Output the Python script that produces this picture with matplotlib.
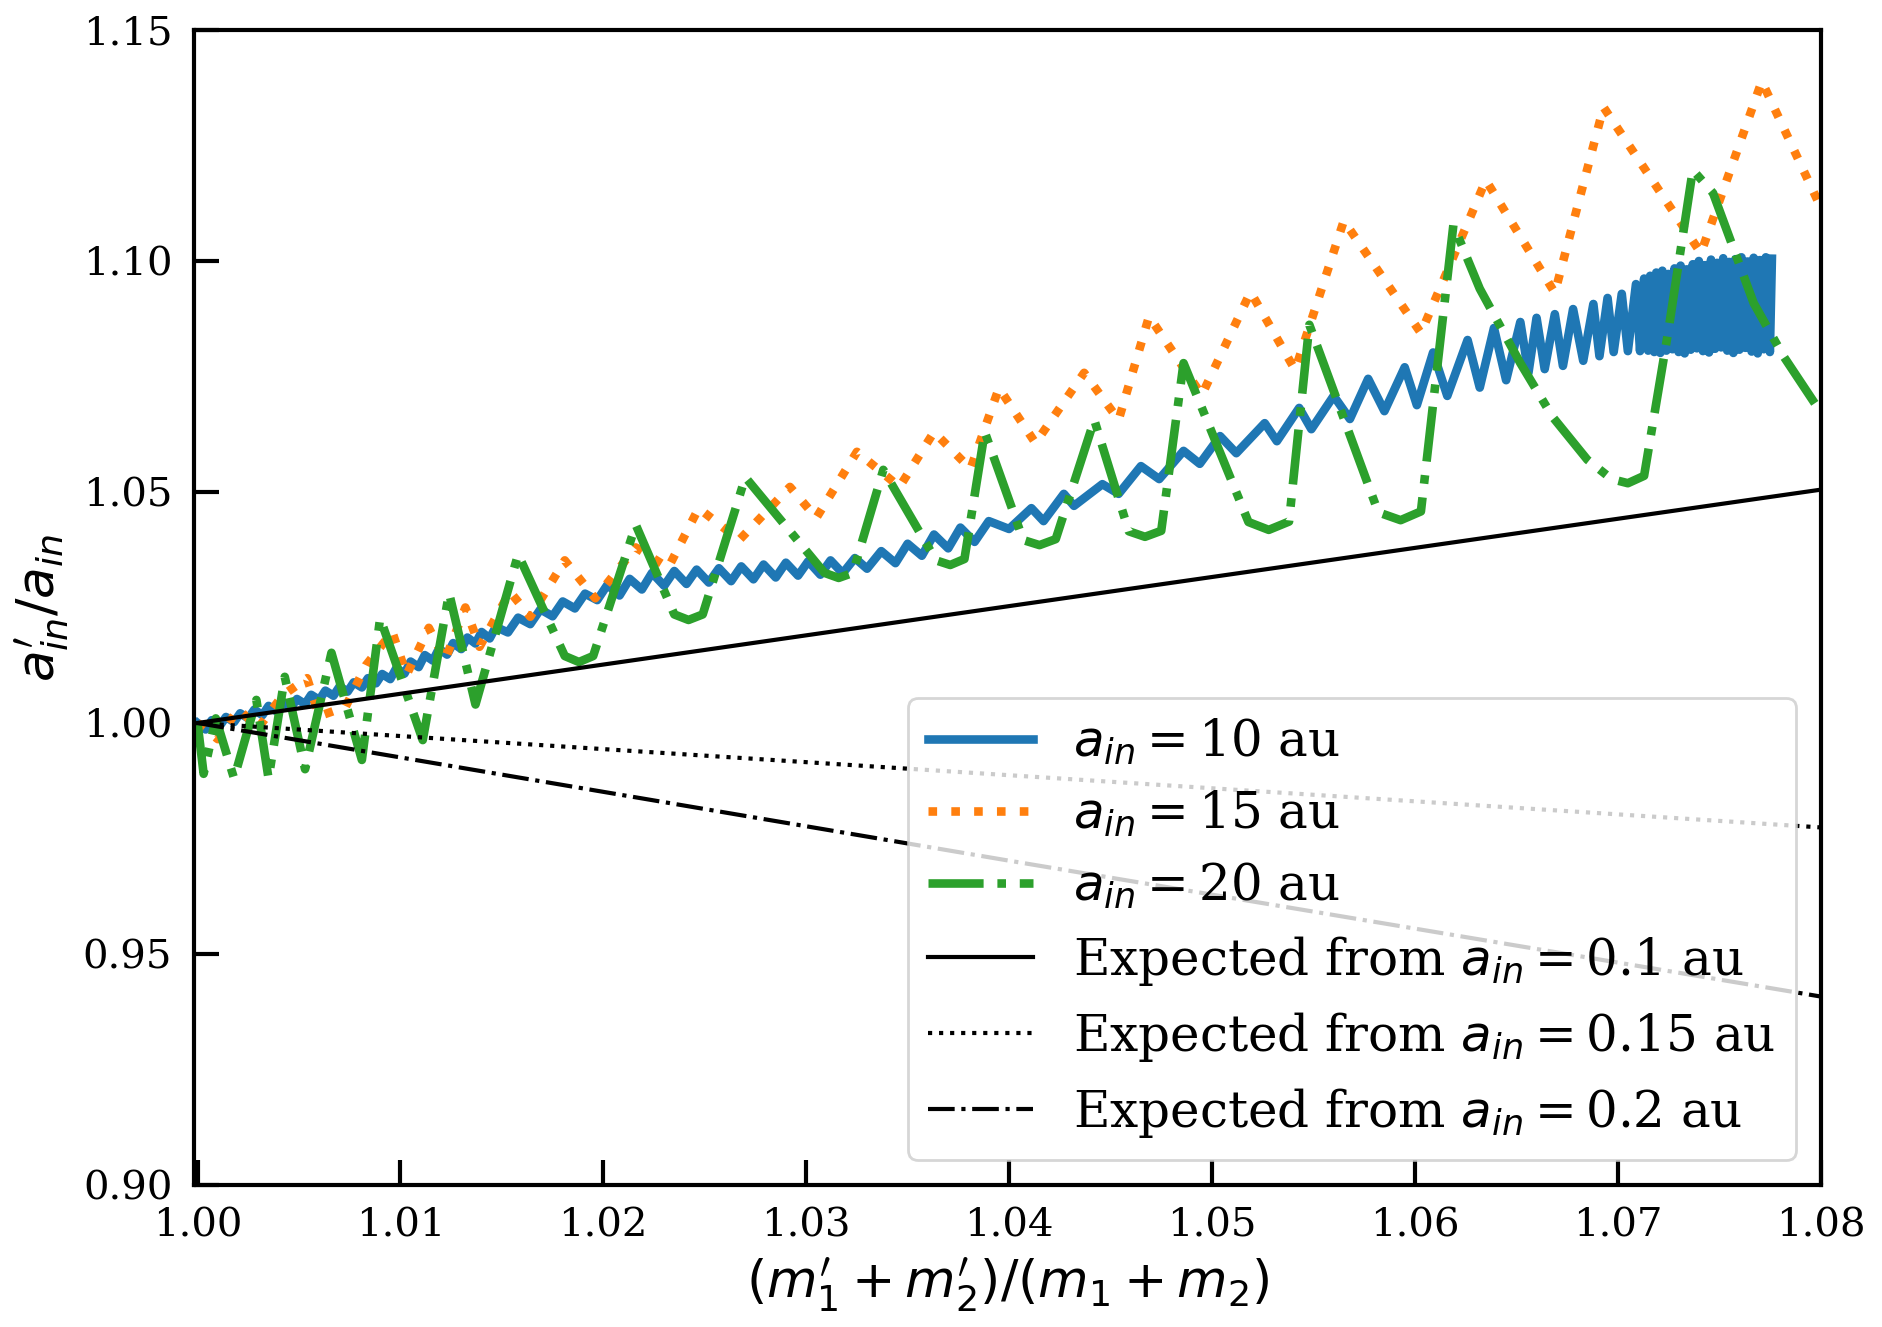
import matplotlib
matplotlib.use('Agg')
import matplotlib.pyplot as plt

# ---------------- data ----------------
blue_x = [1.0000, 1.0004, 1.0007, 1.0011, 1.0014, 1.0018, 1.0021, 1.0025, 1.0028, 1.0032,
          1.0035, 1.0039, 1.0042, 1.0046, 1.0049, 1.0053, 1.0056, 1.0060, 1.0063, 1.0067,
          1.0070, 1.0074, 1.0077, 1.0081, 1.0084, 1.0088, 1.0091, 1.0095, 1.0098, 1.0102,
          1.0105, 1.0109, 1.0112, 1.0116, 1.0119, 1.0123, 1.0126, 1.0130, 1.0133, 1.0137,
          1.0140, 1.0144, 1.0147, 1.0153, 1.0158, 1.0164, 1.0169, 1.0175, 1.0180, 1.0186,
          1.0191, 1.0197, 1.0202, 1.0208, 1.0213, 1.0219, 1.0224, 1.0230, 1.0235, 1.0241,
          1.0246, 1.0252, 1.0257, 1.0263, 1.0268, 1.0274, 1.0279, 1.0285, 1.0290, 1.0296,
          1.0301, 1.0307, 1.0312, 1.0318, 1.0324, 1.0330, 1.0337, 1.0344, 1.0350, 1.0357,
          1.0363, 1.0370, 1.0376, 1.0383, 1.0390, 1.0400, 1.0411, 1.0417, 1.0427, 1.0432,
          1.0446, 1.0454, 1.0465, 1.0474, 1.0486, 1.0494, 1.0504, 1.0512, 1.0526, 1.0532,
          1.0543, 1.0549, 1.0560, 1.0568, 1.0577, 1.0585, 1.0595, 1.0601, 1.0609, 1.0616,
          1.0626, 1.0632, 1.0639, 1.0645, 1.0652, 1.0656, 1.0660, 1.0664, 1.0669, 1.0673,
          1.0678, 1.0683, 1.0688, 1.0691, 1.0695, 1.0698, 1.0702, 1.0705, 1.0709, 1.0711,
          1.0713, 1.0715, 1.0716, 1.0718, 1.0719, 1.0721, 1.0722, 1.0724, 1.0725, 1.0727,
          1.0728, 1.0730, 1.0731, 1.0733, 1.0734, 1.0736, 1.0737, 1.0739, 1.0740, 1.0742,
          1.0743, 1.0745, 1.0746, 1.0748, 1.0749, 1.0751, 1.0752, 1.0754, 1.0755, 1.0757,
          1.0758, 1.0760, 1.0761, 1.0763, 1.0764, 1.0766, 1.0767, 1.0769, 1.0770, 1.0772,
          1.0773, 1.0775, 1.0776]
blue_y = [1.0000, 0.9986, 1.0006, 0.9994, 1.0013, 1.0002, 1.0021, 1.0010, 1.0029, 1.0017,
          1.0037, 1.0025, 1.0044, 1.0033, 1.0052, 1.0041, 1.0061, 1.0050, 1.0070, 1.0059,
          1.0079, 1.0068, 1.0088, 1.0077, 1.0097, 1.0086, 1.0106, 1.0095, 1.0119, 1.0107,
          1.0133, 1.0121, 1.0147, 1.0135, 1.0161, 1.0148, 1.0173, 1.0160, 1.0185, 1.0172,
          1.0197, 1.0183, 1.0208, 1.0196, 1.0228, 1.0214, 1.0246, 1.0231, 1.0263, 1.0248,
          1.0280, 1.0266, 1.0299, 1.0276, 1.0312, 1.0289, 1.0325, 1.0297, 1.0329, 1.0301,
          1.0332, 1.0304, 1.0335, 1.0307, 1.0339, 1.0311, 1.0343, 1.0315, 1.0347, 1.0319,
          1.0350, 1.0321, 1.0352, 1.0324, 1.0357, 1.0334, 1.0372, 1.0346, 1.0388, 1.0362,
          1.0408, 1.0378, 1.0423, 1.0392, 1.0437, 1.0420, 1.0465, 1.0437, 1.0496, 1.0470,
          1.0517, 1.0496, 1.0556, 1.0528, 1.0589, 1.0561, 1.0621, 1.0584, 1.0649, 1.0610,
          1.0682, 1.0636, 1.0708, 1.0658, 1.0745, 1.0675, 1.0770, 1.0688, 1.0802, 1.0708,
          1.0829, 1.0726, 1.0855, 1.0742, 1.0868, 1.0758, 1.0877, 1.0766, 1.0885, 1.0773,
          1.0896, 1.0784, 1.0907, 1.0794, 1.0920, 1.0803, 1.0929, 1.0805, 1.0950, 1.0805,
          1.0962, 1.0806, 1.0968, 1.0803, 1.0975, 1.0801, 1.0979, 1.0806, 1.0972, 1.0809,
          1.0984, 1.0803, 1.0990, 1.0800, 1.0982, 1.0808, 1.0993, 1.0811, 1.1000, 1.0805,
          1.0991, 1.0802, 1.1003, 1.0810, 1.0996, 1.0813, 1.1006, 1.0806, 1.0998, 1.0801,
          1.1004, 1.0808, 1.1008, 1.0812, 1.0999, 1.0804, 1.1007, 1.0800, 1.1002, 1.0809,
          1.1008, 1.0803, 1.1005]

orange_x = [1.0000, 1.0010, 1.0020, 1.0030, 1.0042, 1.0054, 1.0060, 1.0073, 1.0083, 1.0096,
            1.0103, 1.0114, 1.0122, 1.0132, 1.0139, 1.0154, 1.0164, 1.0181, 1.0196, 1.0216,
            1.0232, 1.0247, 1.0267, 1.0292, 1.0305, 1.0325, 1.0346, 1.0363, 1.0381, 1.0395,
            1.0413, 1.0437, 1.0454, 1.0469, 1.0495, 1.0519, 1.0541, 1.0565, 1.0603, 1.0635,
            1.0669, 1.0693, 1.0741, 1.0771, 1.0800]
orange_y = [1.0000, 0.9965, 1.0030, 0.9990, 1.0060, 1.0097, 1.0015, 1.0035, 1.0125, 1.0197,
            1.0104, 1.0206, 1.0136, 1.0250, 1.0165, 1.0284, 1.0230, 1.0352, 1.0270, 1.0380,
            1.0336, 1.0465, 1.0396, 1.0511, 1.0444, 1.0587, 1.0511, 1.0630, 1.0550, 1.0725,
            1.0606, 1.0758, 1.0656, 1.0880, 1.0710, 1.0933, 1.0764, 1.1087, 1.0844, 1.1175,
            1.0931, 1.1333, 1.1017, 1.1389, 1.1117]

green_x = [1.0000, 1.0003, 1.0009, 1.0018, 1.0029, 1.0035, 1.0043, 1.0053, 1.0066, 1.0081,
           1.0090, 1.0111, 1.0124, 1.0137, 1.0158, 1.0181, 1.0188, 1.0195, 1.0216, 1.0235,
           1.0242, 1.0249, 1.0270, 1.0309, 1.0316, 1.0323, 1.0338, 1.0364, 1.0371, 1.0378,
           1.0388, 1.0407, 1.0415, 1.0423, 1.0442, 1.0459, 1.0467, 1.0475, 1.0486, 1.0518,
           1.0528, 1.0538, 1.0548, 1.0582, 1.0593, 1.0603, 1.0619, 1.0632, 1.0652, 1.0668,
           1.0685, 1.0697, 1.0705, 1.0713, 1.0725, 1.0737, 1.0747, 1.0767, 1.0782, 1.0800]
green_y = [1.0000, 0.9890, 1.0010, 0.9880, 1.0050, 0.9880, 1.0100, 0.9900, 1.0152, 0.9920,
           1.0227, 0.9963, 1.0281, 1.0040, 1.0365, 1.0145, 1.0132, 1.0145, 1.0429, 1.0235,
           1.0223, 1.0235, 1.0532, 1.0325, 1.0314, 1.0325, 1.0548, 1.0352, 1.0342, 1.0355,
           1.0630, 1.0396, 1.0385, 1.0398, 1.0656, 1.0415, 1.0403, 1.0416, 1.0779, 1.0435,
           1.0418, 1.0436, 1.0862, 1.0456, 1.0439, 1.0458, 1.1078, 1.0940, 1.0779, 1.0662,
           1.0570, 1.0528, 1.0519, 1.0535, 1.0850, 1.1197, 1.1147, 1.0909, 1.0792, 1.0673]

expected_x = [1.00, 1.04, 1.08]
expected_01 = [1.0000, 1.0253, 1.0505]
expected_015 = [1.0000, 0.9887, 0.9774]
expected_02 = [1.0000, 0.9702, 0.9408]

series_labels = [r'$a_{in} = $10 au', r'$a_{in} = $15 au', r'$a_{in} = $20 au']
expected_labels = [r'Expected from $a_{in} = $0.1 au',
                   r'Expected from $a_{in} = $0.15 au',
                   r'Expected from $a_{in} = $0.2 au']

xticks = [1.00, 1.01, 1.02, 1.03, 1.04, 1.05, 1.06, 1.07, 1.08]
xticklabels = ['1.00', '1.01', '1.02', '1.03', '1.04', '1.05', '1.06', '1.07', '1.08']
yticks = [0.90, 0.95, 1.00, 1.05, 1.10, 1.15]
yticklabels = ['0.90', '0.95', '1.00', '1.05', '1.10', '1.15']

# ---------------- figure ----------------
plt.rcParams['font.family'] = ['DejaVu Serif']
plt.rcParams['mathtext.fontset'] = 'dejavusans'

fig = plt.figure(figsize=(9.415, 6.635), dpi=200)
ax = fig.add_axes([0.10329, 0.10701, 0.86357, 0.87038])

style = dict(solid_joinstyle='round', dash_joinstyle='round')
ax.plot(blue_x, blue_y, color='#1f77b4', lw=3.1, label=series_labels[0], **style)
ax.plot(orange_x, orange_y, color='#ff7f0e', lw=3.1, ls=':', label=series_labels[1], **style)
ax.plot(green_x, green_y, color='#2ca02c', lw=3.1, ls='-.', label=series_labels[2], **style)
ax.plot(expected_x, expected_01, color='black', lw=1.5, ls='-', label=expected_labels[0])
ax.plot(expected_x, expected_015, color='black', lw=1.5, ls=':', label=expected_labels[1])
ax.plot(expected_x, expected_02, color='black', lw=1.5, ls='-.', label=expected_labels[2])

ax.set_xlim(0.99985, 1.08)
ax.set_ylim(0.90, 1.15)
ax.set_xticks(xticks)
ax.set_xticklabels(xticklabels)
ax.set_yticks(yticks)
ax.set_yticklabels(yticklabels)
ax.tick_params(direction='in', length=9, width=1.5, pad=8, labelsize=14.5)
for s in ax.spines.values():
    s.set_linewidth(1.5)

ax.set_xlabel(r"$(m_1^{\prime} + m_2^{\prime})/(m_1 + m_2)$", fontsize=18.7)
ax.set_ylabel(r"$a_{in}^{\prime}/a_{in}$", fontsize=18.7)
ax.legend(loc='lower right', fontsize=18, handlelength=2.1, labelspacing=0.44)

fig.savefig('out.png', dpi=200)
